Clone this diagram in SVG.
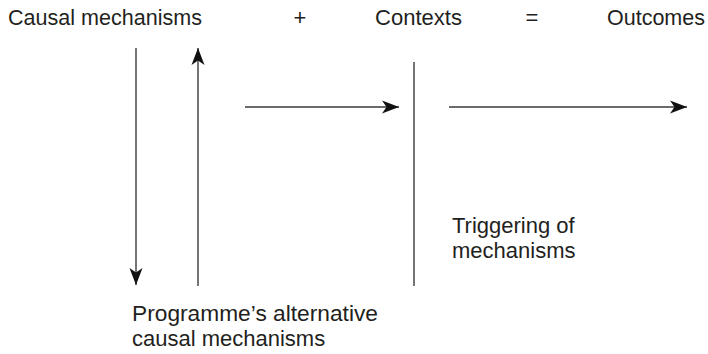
<svg xmlns="http://www.w3.org/2000/svg" width="708" height="354" viewBox="0 0 708 354">
<style>
text{font-family:"Liberation Sans",Arial,sans-serif;font-size:22px;fill:#231f20}
.ln{stroke:#3a3a3a;stroke-width:1.4;fill:none}
</style>
<defs>
<marker id="ah" markerUnits="userSpaceOnUse" markerWidth="18" markerHeight="14" viewBox="0 0 18 14" refX="17" refY="7" orient="auto">
<path d="M0,0.5 L17,7 L0,13.5 L4.5,7 Z" fill="#111"/>
</marker>
</defs>
<g id="causal"><text x="8" y="25" textLength="194" lengthAdjust="spacingAndGlyphs">Causal mechanisms</text></g>
<g id="plus"><text x="300" y="25" text-anchor="middle">+</text></g>
<g id="contexts"><text x="375" y="25" textLength="87" lengthAdjust="spacingAndGlyphs">Contexts</text></g>
<g id="equals"><text x="532" y="25" text-anchor="middle">=</text></g>
<g id="outcomes"><text x="607" y="25" textLength="98" lengthAdjust="spacingAndGlyphs">Outcomes</text></g>
<g id="triggering"><text x="452" y="233">Triggering of</text><text x="452" y="258">mechanisms</text></g>
<g id="alternative"><text x="132" y="321" textLength="246" lengthAdjust="spacingAndGlyphs">Programme’s alternative</text><text x="132" y="346">causal mechanisms</text></g>
<g id="connectors">
<line class="ln" x1="136" y1="48" x2="136" y2="285" marker-end="url(#ah)"/>
<line class="ln" x1="198" y1="286" x2="198" y2="48" marker-end="url(#ah)"/>
<line class="ln" x1="245" y1="107" x2="399" y2="107" marker-end="url(#ah)"/>
<line class="ln" x1="414" y1="62" x2="414" y2="286"/>
<line class="ln" x1="449" y1="107" x2="687" y2="107" marker-end="url(#ah)"/>
</g>
</svg>
